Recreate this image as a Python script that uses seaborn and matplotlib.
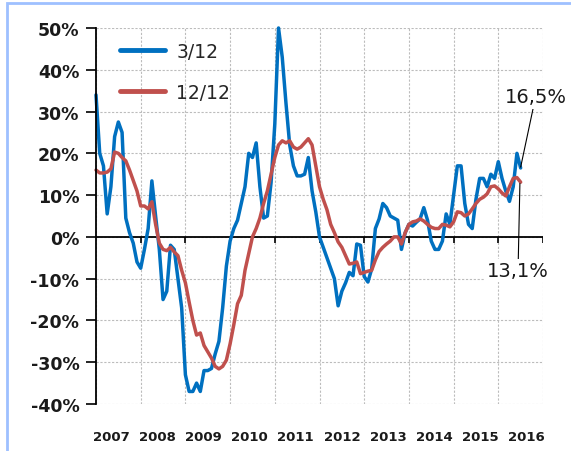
import pandas as pd
import matplotlib
matplotlib.use("Agg")
import matplotlib.pyplot as plt
import matplotlib.patches as patches
import seaborn as sns

# monthly values, first point = start of 2007
blue_3_12 = [34, 20, 17, 5.5, 12, 24, 27.5, 25, 4.5, 1, -1.5, -6,
             -7.5, -3, 2, 13.4, 5, -3, -15, -13, -2, -3, -10, -17,
             -33, -37, -37, -35, -37, -32, -32, -31.5, -28, -25, -17, -7,
             -1, 2, 4, 8, 12, 20, 19, 22.5, 12, 4.5, 5, 13,
             27, 50, 43, 32, 22, 17, 14.6, 14.6, 15, 19, 11, 6,
             0, -2.5, -5, -7.5, -10, -16.5, -13, -11, -8.5, -9.3, -1.7, -2,
             -9.5, -10.8, -7.7, 2, 4.3, 8, 7, 5, 4.5, 4, -3, 1,
             3, 2.6, 3.5, 4.3, 7, 4, -1, -3, -3, -1, 5.5, 3,
             10, 17, 17, 8, 3, 2, 9, 14, 14, 12, 15, 14,
             18, 14, 11, 8.5, 12, 20, 16.5]
red_12_12 = [16, 15.3, 15.3, 15.5, 16.3, 20.3, 20, 19, 18.2, 16, 13.5, 11,
             7.4, 7.4, 6.7, 8.4, 3, -1.5, -3, -3.3, -2.5, -3.6, -4.5, -8,
             -11, -15.6, -20, -23.5, -23, -26, -27.5, -29, -31, -31.6, -31, -29.5,
             -25.6, -21, -16, -14, -8, -4, 0, 2, 4.5, 8, 11, 15,
             19, 22, 23, 22.5, 23, 21.5, 21, 21.5, 22.5, 23.5, 22, 17,
             12, 9, 6.5, 3, 1, -1.2, -2.5, -4.5, -6.5, -6.3, -6, -8.8,
             -8.5, -8.2, -8, -5.5, -3.5, -2.5, -1.7, -1, 0, 0, -1.7, 1,
             3, 3.6, 3.8, 4.3, 3.8, 3, 2.3, 2, 2, 3, 2.8, 2.4,
             3.6, 6, 5.8, 5, 5.5, 6.7, 8, 9, 9.5, 10.3, 12, 12.2,
             11.5, 10.5, 9.8, 12, 14, 14.2, 13.1]
years = ["2007", "2008", "2009", "2010", "2011", "2012", "2013", "2014", "2015", "2016"]
y_ticks = [-40, -30, -20, -10, 0, 10, 20, 30, 40, 50]

df = pd.concat([
    pd.DataFrame({"month": range(len(blue_3_12)), "value": blue_3_12, "series": "3/12"}),
    pd.DataFrame({"month": range(len(red_12_12)), "value": red_12_12, "series": "12/12"}),
])

sns.set_style("white")
plt.rcParams["font.family"] = ["DejaVu Sans"]

fig = plt.figure(figsize=(5.71, 4.52), dpi=100)
ax = fig.add_axes([96 / 571, 1 - 405 / 452, 447 / 571, 376 / 452])

sns.lineplot(data=df, x="month", y="value", hue="series",
             palette={"3/12": "#0070C0", "12/12": "#C0504D"},
             linewidth=2.5, ax=ax)
for line in ax.get_lines():
    line.set_clip_on(False)

ax.set_xlim(0, 120)
ax.set_ylim(-40, 50)
ax.set_xticks(range(0, 121, 12))
ax.set_xticklabels([])
ax.set_xticks([i * 12.4 + 4 for i in range(len(years))], minor=True)
ax.set_xticklabels(years, minor=True, fontsize=9.5, fontweight="bold", color="#1a1a1a")
ax.tick_params(axis="x", which="both", length=0, pad=19)
ax.set_yticks(y_ticks)
ax.set_yticklabels([f"{v}%" for v in y_ticks], fontsize=12.5, fontweight="bold", color="#1a1a1a")
ax.tick_params(axis="y", length=7, width=1.2, color="black", pad=5, direction="out", left=True)
ax.set_xlabel("")
ax.set_ylabel("")

ax.grid(True, which="major", color="#bcbcbc", linestyle=(0, (2, 1.5)), linewidth=0.8)
ax.set_axisbelow(True)
for s in ["top", "right", "bottom"]:
    ax.spines[s].set_visible(False)
ax.spines["left"].set_color("black")
ax.spines["left"].set_linewidth(1.3)

# zero axis with its tick marks
ax.axhline(0, color="black", linewidth=1.3, zorder=1.5)
ax.vlines(range(12, 121, 12), -1.5, 0, color="black", linewidth=1.2, zorder=1.5)

ax.legend(title=None, frameon=False, loc="upper left",
          bbox_to_anchor=(120 / 571, 1 - 43 / 452), bbox_transform=fig.transFigure,
          borderaxespad=0, borderpad=0, fontsize=13.5, handlelength=2.4,
          handletextpad=0.6, labelspacing=1.15)
for line in ax.get_legend().get_lines():
    line.set_linewidth(3.5)

box = dict(facecolor="white", edgecolor="none", pad=1.5)
ax.annotate("16,5%", xy=(114, 16.7), xytext=(118, 33.5), ha="center", va="center",
            fontsize=14, color="#1a1a1a", bbox=box,
            arrowprops=dict(arrowstyle="-", color="black", lw=0.8, shrinkA=0, shrinkB=0))
ax.annotate("13,1%", xy=(113.8, 12.8), xytext=(113.3, -8.1), ha="center", va="center",
            fontsize=14, color="#1a1a1a", bbox=box,
            arrowprops=dict(arrowstyle="-", color="black", lw=0.8, shrinkA=0, shrinkB=0))

# chart frame
fig.patches.append(patches.Rectangle((7 / 571, -0.1), 1.2, 1.1 - 4 / 452, fill=False,
                                     edgecolor="#9ec0ff", linewidth=2,
                                     transform=fig.transFigure, figure=fig))

fig.savefig("out.png", dpi=100)
